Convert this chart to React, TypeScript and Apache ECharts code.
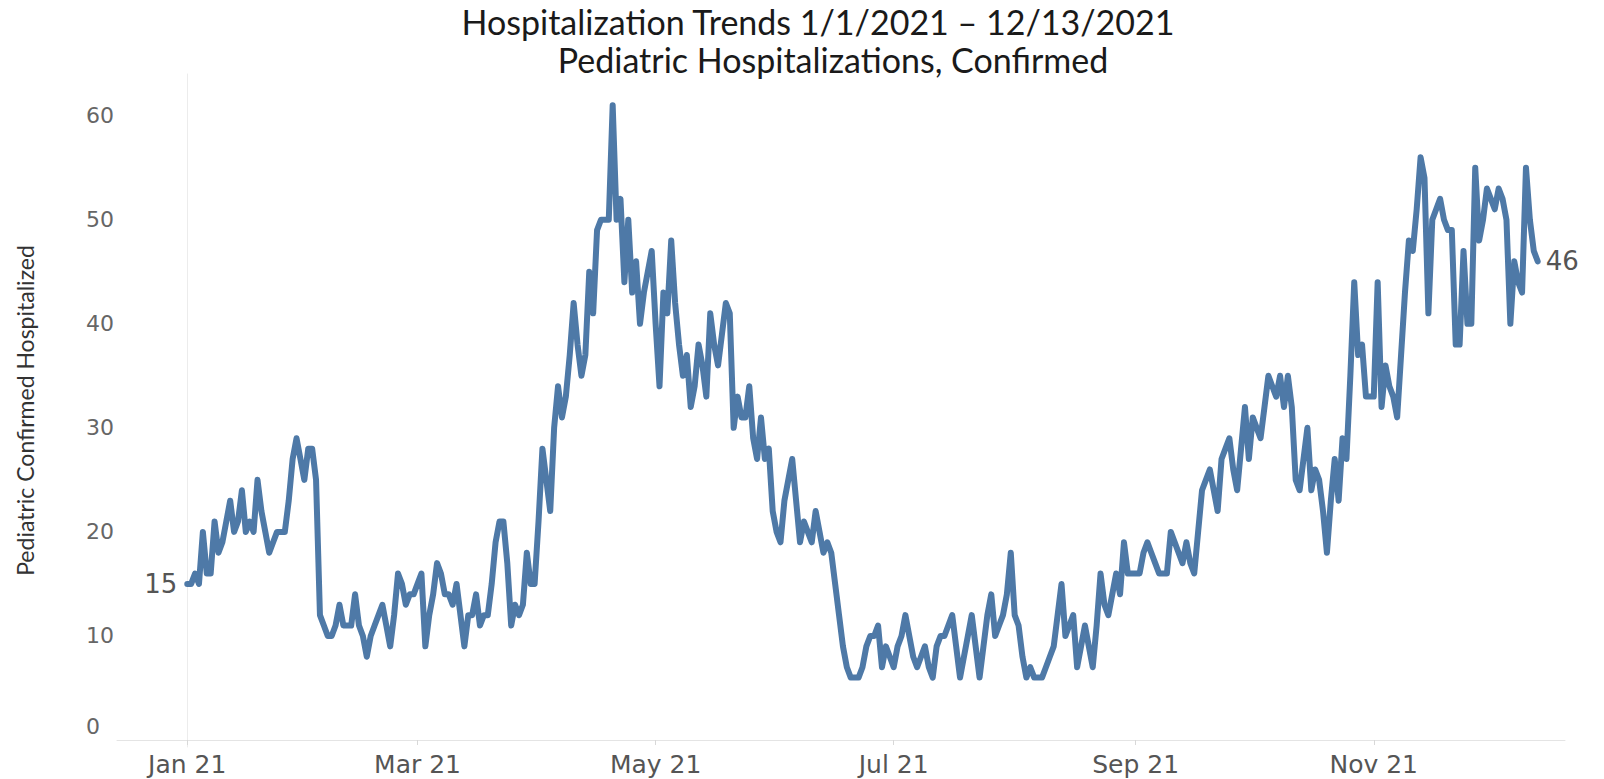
import React, { useEffect, useRef } from "react";
import * as echarts from "echarts";

// Daily confirmed pediatric hospitalizations, starting 2021-01-01
const startDate = "2021-01-01";
const jan = [15, 15, 16, 15, 20, 16, 16, 21, 18, 19, 21, 23, 20, 21, 24, 20, 21, 20, 25, 22, 20, 18, 19, 20, 20, 20, 23, 27, 29, 27, 25];
const feb = [28, 28, 25, 12, 11, 10, 10, 11, 13, 11, 11, 11, 14, 11, 10, 8, 10, 11, 12, 13, 11, 9, 12, 16, 15, 13, 14, 14];
const mar = [15, 16, 9, 12, 14, 17, 16, 14, 14, 13, 15, 12, 9, 12, 12, 14, 11, 12, 12, 15, 19, 21, 21, 17, 11, 13, 12, 13, 18, 15, 15];
const apr = [21, 28, 25, 22, 30, 34, 31, 33, 37, 42, 38, 35, 37, 45, 41, 49, 50, 50, 50, 61, 50, 52, 44, 50, 43, 46, 40, 43, 45, 47];
const may = [40, 34, 43, 41, 48, 42, 38, 35, 37, 32, 34, 38, 36, 33, 41, 38, 36, 39, 42, 41, 30, 33, 31, 31, 34, 29, 27, 31, 27, 28, 22];
const jun = [20, 19, 23, 25, 27, 23, 19, 21, 20, 19, 22, 20, 18, 19, 18, 15, 12, 9, 7, 6, 6, 6, 7, 9, 10, 10, 11, 7, 9, 8];
const jul = [7, 9, 10, 12, 10, 8, 7, 8, 9, 7, 6, 9, 10, 10, 11, 12, 9, 6, 8, 10, 12, 9, 6, 9, 12, 14, 10, 11, 12, 14, 18];
const aug = [12, 11, 8, 6, 7, 6, 6, 6, 7, 8, 9, 12, 15, 10, 11, 12, 7, 9, 11, 9, 7, 11, 16, 13, 12, 14, 16, 14, 19, 16, 16];
const sep = [16, 16, 18, 19, 18, 17, 16, 16, 16, 20, 19, 18, 17, 19, 17, 16, 20, 24, 25, 26, 24, 22, 27, 28, 29, 26, 24, 28, 32, 27];
const oct = [31, 30, 29, 32, 35, 34, 33, 35, 32, 35, 32, 25, 24, 27, 30, 24, 26, 25, 22, 18, 23, 27, 23, 29, 27, 35, 44, 37, 38, 33, 33];
const nov = [33, 44, 32, 36, 34, 33, 31, 37, 43, 48, 47, 51, 56, 54, 41, 50, 51, 52, 50, 49, 49, 38, 38, 47, 40, 40, 55, 48, 50, 53];
const dec = [52, 51, 53, 52, 50, 40, 46, 44, 43, 55, 50, 47, 46];

const tickDates = ["2021-01-01", "2021-03-01", "2021-05-01", "2021-07-01", "2021-09-01", "2021-11-01"];
const tickLabels = ["Jan 21", "Mar 21", "May 21", "Jul 21", "Sep 21", "Nov 21"];
const yTicks = [0, 10, 20, 30, 40, 50, 60];
const titleLine1 = "Hospitalization Trends 1/1/2021 \u2013 12/13/2021";
const titleLine2 = "Pediatric Hospitalizations, Confirmed";
const yAxisName = "Pediatric Confirmed Hospitalized";

const dayIndex = (d: string) =>
  Math.round((Date.parse(d + "T00:00:00Z") - Date.parse(startDate + "T00:00:00Z")) / 86400000);

export default function App() {
  const ref = useRef<HTMLDivElement>(null);

  useEffect(() => {
    if (!ref.current) return;
    const chart = echarts.init(ref.current, undefined, { renderer: "svg" });
    const values = [jan, feb, mar, apr, may, jun, jul, aug, sep, oct, nov, dec].flat();
    const data = values.map((v, i) => [i, v]);
    const tickDays = tickDates.map(dayIndex);
    const last = values.length - 1;
    const labelFont = "'DejaVu Sans', Verdana, sans-serif";

    chart.setOption({
      animation: false,
      backgroundColor: "#ffffff",
      grid: { left: 117, right: 39, top: 74, bottom: 32, containLabel: false },
      graphic: [
        {
          type: "text",
          x: 818,
          y: 21,
          style: {
            text: titleLine1,
            font: "34px Lato, 'Open Sans', sans-serif",
            fill: "#1a1a1a",
            textAlign: "center",
            textVerticalAlign: "middle",
          },
        },
        {
          type: "text",
          x: 833,
          y: 59,
          style: {
            text: titleLine2,
            font: "34px Lato, 'Open Sans', sans-serif",
            fill: "#1a1a1a",
            textAlign: "center",
            textVerticalAlign: "middle",
          },
        },
      ],
      xAxis: {
        type: "value",
        min: -18,
        max: 353,
        splitLine: { show: false },
        axisLine: { show: true, lineStyle: { color: "#e4e4e4", width: 1 } },
        axisTick: { show: true, customValues: tickDays, length: 5, lineStyle: { color: "#d8d8d8" } },
        axisLabel: {
          customValues: tickDays,
          formatter: (v: number) => {
            const k = tickDays.indexOf(Math.round(v));
            return k >= 0 ? tickLabels[k] : "";
          },
          fontFamily: labelFont,
          fontSize: 25,
          lineHeight: 26,
          color: "#555555",
          margin: 4,
        },
      },
      yAxis: {
        type: "value",
        min: -0.67,
        max: 64,
        splitLine: { show: false },
        axisLine: { show: true, lineStyle: { color: "#ececec", width: 1 } },
        axisTick: { show: false },
        axisLabel: {
          customValues: yTicks,
          align: "left",
          fontFamily: labelFont,
          fontSize: 22,
          color: "#666666",
          margin: 31,
          formatter: (v: number) => (Math.round(v) === 0 ? "{z|0}" : String(Math.round(v))),
          rich: {
            z: { padding: [0, 0, 28, 0], fontFamily: labelFont, fontSize: 22, color: "#666666" },
          },
        },
        name: yAxisName,
        nameLocation: "middle",
        nameGap: 81,
        nameTextStyle: {
          fontFamily: "Lato, 'Open Sans', sans-serif",
          fontSize: 23,
          color: "#333333",
        },
      },
      series: [
        {
          type: "line",
          data,
          showSymbol: false,
          lineStyle: { color: "#4e79a7", width: 6, cap: "round", join: "round" },
          itemStyle: { color: "#4e79a7" },
          markPoint: {
            symbol: "circle",
            symbolSize: 0,
            silent: true,
            label: {
              show: true,
              fontFamily: labelFont,
              fontSize: 26,
              color: "#555555",
              formatter: (p: any) => String(p.value),
            },
            data: [
              { coord: [0, values[0]], value: values[0], label: { position: "left", distance: 10 } },
              { coord: [last, values[last]], value: values[last], label: { position: "right", distance: 8 } },
            ],
          },
        },
      ],
    });
    return () => chart.dispose();
  }, []);

  return (
    <div
      ref={ref}
      style={{ position: "absolute", left: 0, top: 0, width: 1604, height: 779 }}
    />
  );
}
